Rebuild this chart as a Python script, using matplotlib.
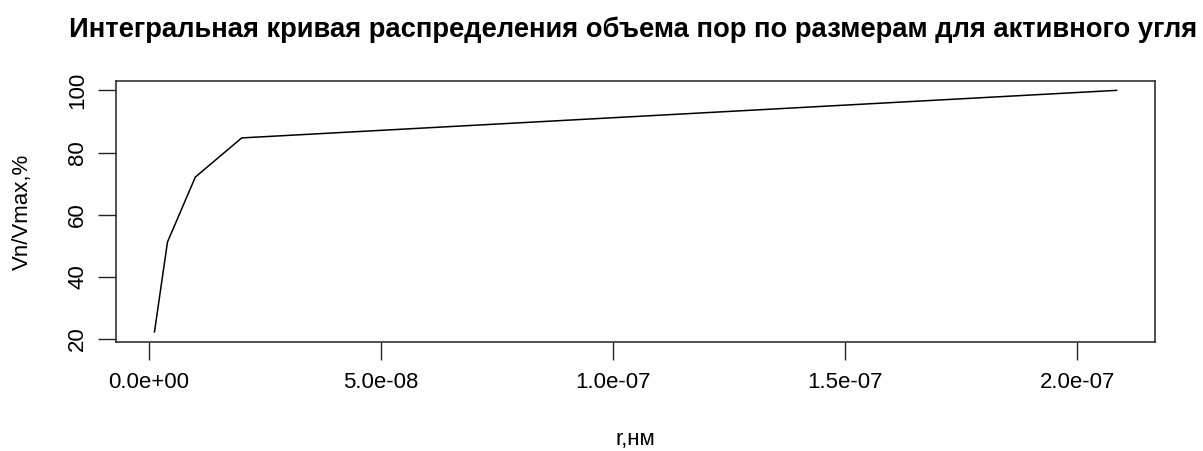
import matplotlib
matplotlib.use('agg')
import matplotlib.pyplot as plt
from matplotlib.ticker import FixedLocator, FuncFormatter

plt.rcParams['font.family'] = ['Liberation Sans', 'DejaVu Sans']

# pore radius and cumulative pore volume share
radius = [1.2e-9, 4e-9, 1e-8, 2e-8, 2.085e-7]
volume_pct = [22.3, 51.2, 72.1, 84.7, 100.0]

x_ticks = [0, 5e-8, 1e-7, 1.5e-7, 2e-7]
y_ticks = [20, 40, 60, 80, 100]

W, H = 1203, 451
fig = plt.figure(figsize=(W / 100, H / 100), dpi=100)
ax = fig.add_axes([116 / W, 1 - 341.5 / H, (1155 - 116) / W, (341.5 - 80.7) / H])

ax.plot(radius, volume_pct, color='black', linewidth=1.1)

# R-style 4% padding around the data
xr = max(radius) - min(radius)
yr = max(volume_pct) - min(volume_pct)
ax.set_xlim(min(radius) - 0.04 * xr, max(radius) + 0.04 * xr)
ax.set_ylim(min(volume_pct) - 0.04 * yr, max(volume_pct) + 0.04 * yr)

ax.xaxis.set_major_locator(FixedLocator(x_ticks))
ax.yaxis.set_major_locator(FixedLocator(y_ticks))
ax.xaxis.set_major_formatter(FuncFormatter(lambda v, p: f"{v:.1e}"))
ax.tick_params(axis='both', length=13, width=1, labelsize=16, color='#222222')
ax.tick_params(axis='x', pad=9)
ax.tick_params(axis='y', pad=7)
for lbl in ax.get_yticklabels():
    lbl.set_rotation(90)
    lbl.set_va('center')

for s in ax.spines.values():
    s.set_linewidth(1.1)
    s.set_color('#222222')

fig.text(633 / W, 1 - 30 / H,
         'Интегральная кривая распределения объема пор по размерам для активного угля',
         ha='center', va='center', fontsize=19.7, fontweight='bold')
fig.text((116 + 1155) / 2 / W, 1 - 440 / H, 'r,нм', ha='center', va='center', fontsize=16)
fig.text(22 / W, 1 - 212 / H, 'Vn/Vmax,%', ha='center', va='center', fontsize=16, rotation=90)

fig.savefig('out.png', dpi=100)
